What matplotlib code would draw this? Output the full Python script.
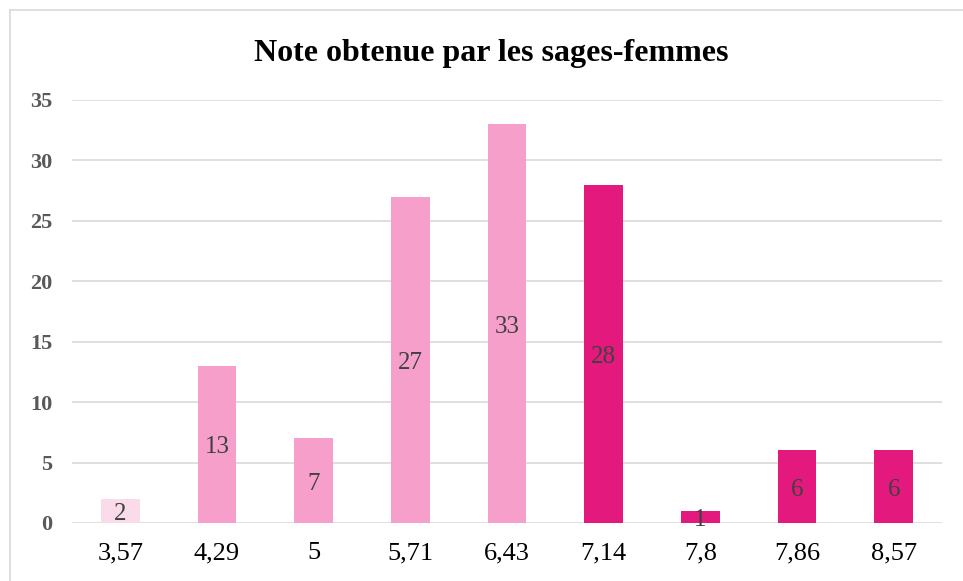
import matplotlib
matplotlib.use("Agg")
import matplotlib.pyplot as plt
from matplotlib.lines import Line2D
from matplotlib.transforms import offset_copy

categories = ["3,57", "4,29", "5", "5,71", "6,43", "7,14", "7,8", "7,86", "8,57"]
values = [2, 13, 7, 27, 33, 28, 1, 6, 6]
colors = ["#FADBEA", "#F59FCA", "#F59FCA", "#F59FCA", "#F59FCA",
          "#E4197D", "#E4197D", "#E4197D", "#E4197D"]
yticks = [0, 5, 10, 15, 20, 25, 30, 35]
title = "Note obtenue par les sages-femmes"

plt.rcParams['font.family'] = ['Liberation Serif', 'DejaVu Serif']

W, H = 963, 581
fig = plt.figure(figsize=(W / 100, H / 100), dpi=100)

# outer frame
fx0, fy1 = 10 / W, 1 - 10 / H
fig.add_artist(Line2D([fx0, 1], [fy1, fy1], color="#D9D9D9", lw=1.2, transform=fig.transFigure))
fig.add_artist(Line2D([fx0, fx0], [0, fy1], color="#D9D9D9", lw=1.2, transform=fig.transFigure))

ax = fig.add_axes([72 / W, (H - 523) / H, 870 / W, 423 / H])
x = list(range(len(categories)))
bars = ax.bar(x, values, width=0.4, color=colors, zorder=3)
lbl_tr = offset_copy(ax.transData, fig=fig, x=0, y=-3, units="dots")
for b, v in zip(bars, values):
    ax.text(b.get_x() + b.get_width() / 2, v / 2, str(v), ha="center", va="center",
            fontsize=18, color="#404040", zorder=4, transform=lbl_tr)

ax.set_xlim(-0.5, len(categories) - 0.5)
ax.set_ylim(0, 35)
ax.set_yticks(yticks)
ax.set_yticklabels([str(t) for t in yticks], fontsize=16, fontweight="bold", color="#595959")
ax.set_xticks(x)
ax.set_xticklabels(categories, fontsize=19, color="black")
ax.tick_params(axis="both", length=0)
ax.tick_params(axis="x", pad=14)
ax.tick_params(axis="y", pad=14)
ax.grid(axis="y", color="#D9D9D9", lw=1.2, zorder=0)
for s in ax.spines.values():
    s.set_visible(False)

fig.text(491 / W, 1 - 53 / H, title, ha="center", va="center", fontsize=23, fontweight="bold")

fig.savefig("out.png", dpi=100)
